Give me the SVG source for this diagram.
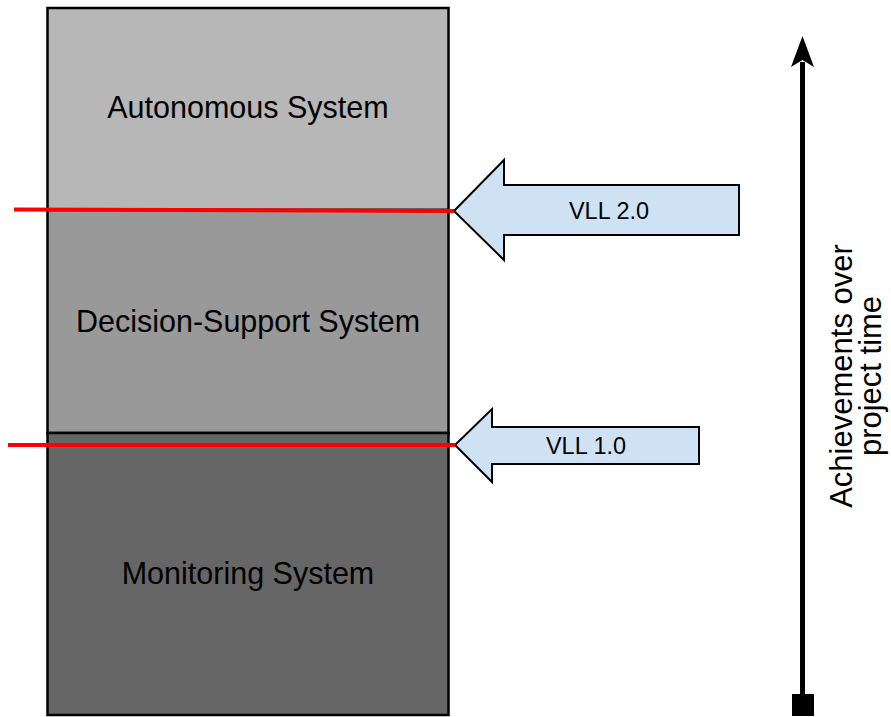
<svg xmlns="http://www.w3.org/2000/svg" width="891" height="717" viewBox="0 0 891 717">
  <style>
    .box { stroke: #000000; stroke-width: 2.5; }
    .label { font-family: "Liberation Sans", Arial, sans-serif; font-size: 30.5px; fill: #000000; text-anchor: middle; }
    .axis-label { font-family: "Liberation Sans", Arial, sans-serif; font-size: 31px; fill: #000000; text-anchor: middle; }
    .vll { font-family: "Liberation Sans", Arial, sans-serif; font-size: 23.5px; fill: #000000; text-anchor: middle; }
    .callout { fill: #cfe2f3; stroke: #000000; stroke-width: 2; stroke-linejoin: miter; }
    .level { stroke: #ff0000; stroke-width: 4; fill: none; }
  </style>
  <rect width="891" height="717" fill="#ffffff"/>

  <!-- capability stack -->
  <g id="autonomous">
    <rect class="box" x="47.5" y="8" width="401" height="202" fill="#b7b7b7"/>
    <text class="label" x="248" y="118">Autonomous System</text>
  </g>
  <g id="decision-support">
    <rect class="box" x="47.5" y="210" width="401" height="223" fill="#999999"/>
    <text class="label" x="248" y="332">Decision-Support System</text>
  </g>
  <g id="monitoring">
    <rect class="box" x="47.5" y="433" width="401" height="282" fill="#666666"/>
    <text class="label" x="248" y="584">Monitoring System</text>
  </g>

  <!-- release markers -->
  <g id="vll-2">
    <path class="callout" d="M454,211 L504,160 L504,185 L739,185 L739,235 L504,235 L504,260 Z"/>
    <text class="vll" x="609" y="219">VLL 2.0</text>
  </g>
  <g id="vll-1">
    <path class="callout" d="M455,445 L492,409 L492,427 L699,427 L699,464 L492,464 L492,482 Z"/>
    <text class="vll" x="586" y="454">VLL 1.0</text>
  </g>

  <!-- time axis -->
  <g id="time-axis">
    <rect x="792" y="694" width="22" height="22" fill="#000000"/>
    <path d="M802.5,36 L791,67 L802.5,60 L814,67 Z" fill="#000000"/>
    <text class="axis-label" transform="translate(852,376) rotate(-90)">Achievements over</text>
    <text class="axis-label" transform="translate(881,376) rotate(-90)">project time</text>
  </g>

  <g id="connectors">
    <line class="level" x1="14" y1="209.5" x2="454" y2="211"/>
    <line class="level" x1="8" y1="445" x2="455" y2="445"/>
    <line x1="802.5" y1="62" x2="802.5" y2="696" stroke="#000000" stroke-width="5"/>
  </g>
</svg>
